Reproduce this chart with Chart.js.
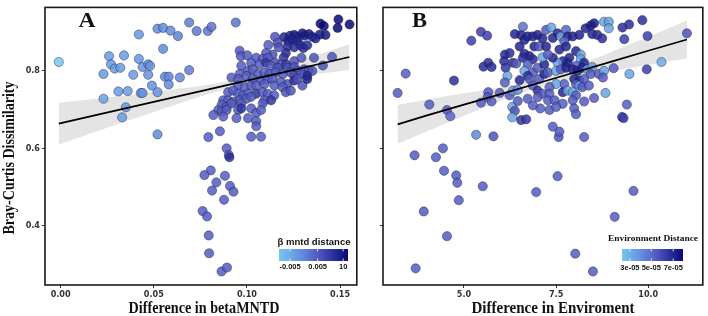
<!DOCTYPE html>
<html><head><meta charset="utf-8">
<script src="https://cdn.jsdelivr.net/npm/chart.js@4/dist/chart.umd.min.js"></script>
<style>
html,body{margin:0;padding:0;background:#fff;}
#wrap{position:relative;width:708px;height:316px;overflow:hidden;background:#fff;}
#cA{position:absolute;left:0;top:0;}
#cB{position:absolute;left:362px;top:0;}
</style></head><body>
<div id="wrap"><canvas id="cA" width="362" height="316"></canvas><canvas id="cB" width="346" height="316"></canvas></div>
<script>
// ---------------- DATA ----------------
// Panel A: Difference in betaMNTD vs Bray-Curtis dissimilarity, colour = beta mntd distance (0..1 shade)
const aX = [
 -0.001,0.023,0.026,0.027,0.029,0.032,0.034,0.023,0.031,0.036,
 0.039,0.035,0.033,0.042,0.042,0.044,0.043,0.044,0.047,0.047,
 0.048,0.049,0.052,0.052,0.052,0.055,0.055,0.056,0.058,0.058,
 0.059,0.063,0.064,0.069,0.069,0.073,0.079,0.081,0.094,
 0.1395,0.1413,0.1491,0.1487,0.1551,0.1151,0.1200,0.1232,0.1254,0.1271,
 0.1298,0.1310,0.1333,0.1351,0.1369,0.1392,0.1422,0.1222,0.1245,0.1271,
 0.1165,0.1115,0.1170,0.1218,0.1254,0.1289,0.1303,0.1324,0.1209,0.1197,
 0.1138,0.1103,0.0961,0.0967,0.1002,0.1050,0.1085,0.1112,0.1151,0.1183,
 0.1209,0.1254,0.1293,0.1360,0.1457,0.0970,0.1023,0.1068,0.1103,0.1130,
 0.1165,0.1218,0.1254,0.1271,0.1307,0.1333,0.1351,0.1408,0.0961,0.1006,
 0.1032,0.1059,0.1094,0.1121,0.1156,0.1192,0.1236,0.1254,0.1289,0.1324,
 0.0917,0.0953,0.0997,0.1032,0.1076,0.1112,0.1138,0.1183,0.1218,0.1254,
 0.1271,0.1298,0.1324,0.0953,0.0988,0.1023,0.1050,0.1094,0.1147,0.1192,
 0.0899,0.0926,0.0953,0.0979,0.1006,0.1050,0.1085,0.1112,0.1147,0.1209,
 0.1236,0.0873,0.0899,0.0926,0.0961,0.0997,0.1023,0.1094,0.1130,0.1085,
 0.0864,0.0891,0.0917,0.0970,0.0846,0.0864,0.0891,0.0953,0.0970,0.1023,
 0.1050,0.1076,0.0820,0.0873,0.0944,0.1006,0.1050,0.1050,0.0855,0.0793,
 0.1023,0.1076,
 0.0891,0.0903,0.0906,0.0806,0.0772,0.0882,0.0836,0.0909,0.0928,0.0813,
 0.0877,0.0762,0.0786,0.0795,0.0797,0.0864,0.0893
];
const aY = [
 0.823,0.792,0.838,0.817,0.806,0.808,0.840,0.728,0.747,0.748,
 0.790,0.706,0.680,0.894,0.831,0.810,0.743,0.743,0.817,0.790,
 0.813,0.762,0.745,0.636,0.909,0.911,0.857,0.785,0.785,0.765,
 0.904,0.890,0.783,0.925,0.802,0.903,0.903,0.914,0.925,
 0.922,0.916,0.933,0.911,0.920,0.888,0.887,0.891,0.893,0.888,
 0.897,0.891,0.895,0.888,0.884,0.894,0.893,0.877,0.880,0.876,
 0.872,0.867,0.861,0.863,0.861,0.866,0.859,0.866,0.846,0.834,
 0.842,0.846,0.852,0.838,0.840,0.834,0.831,0.834,0.821,0.817,
 0.817,0.825,0.834,0.834,0.836,0.813,0.821,0.817,0.821,0.813,
 0.808,0.808,0.810,0.800,0.804,0.802,0.800,0.814,0.792,0.800,
 0.804,0.792,0.796,0.792,0.796,0.792,0.796,0.787,0.792,0.787,
 0.783,0.779,0.787,0.779,0.775,0.779,0.779,0.771,0.766,0.775,
 0.779,0.762,0.779,0.762,0.758,0.762,0.762,0.766,0.762,0.758,
 0.745,0.749,0.741,0.737,0.741,0.741,0.745,0.741,0.737,0.745,
 0.749,0.724,0.724,0.720,0.724,0.728,0.733,0.724,0.724,0.716,
 0.712,0.707,0.716,0.716,0.699,0.695,0.699,0.699,0.703,0.703,
 0.691,0.699,0.686,0.682,0.678,0.678,0.670,0.657,0.644,0.629,
 0.630,0.630,
 0.600,0.583,0.577,0.543,0.531,0.529,0.512,0.503,0.488,0.491,
 0.467,0.438,0.424,0.375,0.329,0.282,0.292
];
const aShade = [
 0.00,0.25,0.25,0.25,0.25,0.25,0.25,0.22,0.25,0.25,
 0.25,0.28,0.25,0.28,0.28,0.28,0.28,0.30,0.30,0.30,
 0.30,0.30,0.30,0.33,0.33,0.33,0.33,0.33,0.35,0.33,
 0.35,0.38,0.35,0.40,0.40,0.42,0.42,0.45,0.45,
 1.00,1.00,1.00,1.00,1.00,0.60,0.85,0.85,0.90,0.85,
 0.90,0.90,0.90,0.85,0.85,0.90,0.90,0.85,0.85,0.85,
 0.60,0.55,0.60,0.80,0.80,0.80,0.80,0.80,0.80,0.75,
 0.60,0.55,0.55,0.55,0.55,0.55,0.55,0.55,0.60,0.60,
 0.75,0.60,0.60,0.60,0.60,0.55,0.55,0.55,0.75,0.55,
 0.60,0.60,0.60,0.60,0.60,0.60,0.60,0.60,0.55,0.55,
 0.55,0.55,0.55,0.55,0.55,0.55,0.60,0.60,0.60,0.80,
 0.55,0.55,0.55,0.55,0.55,0.55,0.55,0.55,0.60,0.80,
 0.60,0.60,0.85,0.55,0.55,0.55,0.55,0.55,0.55,0.55,
 0.55,0.55,0.55,0.55,0.55,0.75,0.55,0.55,0.55,0.60,
 0.60,0.55,0.55,0.55,0.55,0.55,0.55,0.55,0.75,0.55,
 0.55,0.55,0.55,0.55,0.55,0.55,0.55,0.55,0.75,0.55,
 0.55,0.55,0.55,0.55,0.55,0.55,0.55,0.55,0.55,0.55,
 0.55,0.55,
 0.55,0.55,0.80,0.55,0.55,0.55,0.55,0.55,0.55,0.55,
 0.55,0.55,0.55,0.55,0.55,0.55,0.55
];
// Panel A fitted line and confidence band
const aBandX  = [-0.001,0.02,0.04,0.06,0.08,0.10,0.12,0.14,0.155];
const aBandFit= [0.664,0.687,0.709,0.731,0.753,0.775,0.797,0.819,0.836];
const aBandLo = [0.610,0.645,0.678,0.710,0.741,0.766,0.781,0.793,0.802];
const aBandHi = [0.718,0.729,0.740,0.752,0.765,0.784,0.813,0.845,0.869];

// Panel B: Difference in Environment vs Bray-Curtis dissimilarity, colour = environment distance (0..1 shade)
const bX = [
 3.20,3.42,4.06,4.54,4.63,4.73,5.20,5.46,5.63,5.33,
 5.80,3.66,4.24,4.43,4.46,4.79,4.82,4.86,5.51,3.91,
 4.54,3.69,6.96,7.54,8.02,8.50,9.09,9.60,11.05,10.36,
 9.96,9.49,9.42,9.29,9.33,8.26,7.57,7.59,7.41,9.98,
 9.84,9.48,9.30,9.35,8.84,
 5.53,5.66,5.75,5.66,5.64,5.46,5.75,5.97,6.11,6.24,
 6.09,6.13,6.18,6.33,6.42,6.11,6.24,6.33,6.46,6.31,
 6.38,6.31,6.55,6.69,6.46,6.55,6.60,6.64,6.51,6.38,
 6.73,6.87,7.00,6.91,7.04,7.13,6.64,6.78,6.60,6.87,
 6.73,6.64,6.87,7.00,7.18,6.51,6.73,6.78,7.04,6.87,
 7.00,7.13,7.07,6.87,6.73,7.00,7.13,7.18,
 7.23,7.37,7.54,7.41,7.63,7.77,7.81,7.72,7.95,8.13,
 8.30,8.44,8.53,8.80,8.93,8.93,8.48,8.62,8.75,7.23,
 7.59,7.77,7.86,8.04,8.17,8.17,8.26,8.04,7.81,7.68,
 7.54,7.41,7.28,7.28,7.50,7.63,7.77,7.95,8.08,8.21,
 8.35,8.48,8.44,8.66,8.80,8.77,9.06,7.99,8.13,8.04,
 8.13,8.26,7.72,7.50,7.32,7.32,7.68,7.81,7.95,8.04,
 8.21,8.39,7.28,7.46,7.68,7.95,8.26,8.53,7.32,7.50,
 7.99,8.04
];
const bY = [
 0.743,0.793,0.713,0.699,0.683,0.775,0.878,0.901,0.891,0.635,
 0.631,0.582,0.577,0.600,0.542,0.530,0.511,0.466,0.502,0.437,
 0.373,0.290,0.487,0.528,0.328,0.282,0.423,0.490,0.897,0.823,
 0.804,0.792,0.713,0.681,0.678,0.629,0.629,0.643,0.656,0.890,
 0.931,0.920,0.912,0.882,0.743,
 0.811,0.821,0.810,0.745,0.732,0.718,0.721,0.743,0.842,0.846,
 0.825,0.808,0.787,0.821,0.819,0.770,0.737,0.749,0.751,0.707,
 0.697,0.680,0.673,0.675,0.722,0.893,0.914,0.880,0.863,0.895,
 0.889,0.889,0.893,0.863,0.863,0.884,0.844,0.838,0.834,0.830,
 0.817,0.800,0.796,0.808,0.817,0.776,0.787,0.779,0.779,0.762,
 0.749,0.741,0.703,0.711,0.728,0.732,0.835,0.792,
 0.906,0.912,0.897,0.885,0.889,0.906,0.889,0.876,0.889,0.893,
 0.910,0.917,0.923,0.927,0.927,0.910,0.895,0.893,0.884,0.863,
 0.855,0.863,0.834,0.851,0.842,0.830,0.821,0.813,0.821,0.825,
 0.821,0.834,0.842,0.796,0.800,0.804,0.808,0.804,0.800,0.808,
 0.804,0.810,0.792,0.792,0.800,0.783,0.807,0.779,0.775,0.766,
 0.762,0.779,0.766,0.766,0.758,0.741,0.745,0.749,0.745,0.737,
 0.758,0.762,0.724,0.724,0.715,0.724,0.721,0.730,0.699,0.707,
 0.703,0.688
];
const bShade = [
 0.55,0.55,0.55,0.55,0.50,0.80,0.70,0.70,0.70,0.35,
 0.60,0.55,0.55,0.55,0.55,0.55,0.55,0.55,0.55,0.55,
 0.55,0.55,0.55,0.55,0.55,0.55,0.55,0.55,0.60,0.15,
 0.70,0.20,0.55,0.70,0.70,0.55,0.60,0.55,0.55,0.70,
 0.80,0.80,0.80,0.70,0.20,
 0.80,0.80,0.80,0.55,0.55,0.55,0.55,0.55,0.80,0.80,
 0.80,0.75,0.20,0.80,0.55,0.55,0.55,0.25,0.30,0.20,
 0.60,0.20,0.75,0.75,0.55,0.85,0.45,0.85,0.85,0.85,
 0.85,0.85,0.85,0.85,0.55,0.85,0.85,0.85,0.80,0.80,
 0.55,0.20,0.55,0.55,0.85,0.85,0.80,0.55,0.55,0.55,
 0.80,0.55,0.55,0.55,0.55,0.55,0.20,0.85,
 0.55,0.20,0.85,0.85,0.20,0.50,0.85,0.50,0.85,0.85,
 0.85,0.90,0.90,0.20,0.20,0.20,0.85,0.80,0.80,0.85,
 0.85,0.85,0.85,0.85,0.20,0.20,0.85,0.55,0.85,0.85,
 0.20,0.85,0.55,0.55,0.20,0.55,0.85,0.85,0.85,0.85,
 0.20,0.25,0.55,0.55,0.20,0.55,0.55,0.85,0.85,0.55,
 0.20,0.55,0.55,0.20,0.55,0.55,0.85,0.20,0.20,0.55,
 0.55,0.55,0.55,0.55,0.55,0.55,0.55,0.55,0.55,0.55,
 0.55,0.55
];
const bBandX  = [3.20,4.0,5.0,6.0,7.0,8.0,9.0,10.0,11.05];
const bBandFit= [0.662,0.685,0.713,0.740,0.768,0.796,0.824,0.852,0.881];
const bBandLo = [0.612,0.644,0.684,0.722,0.757,0.781,0.799,0.816,0.832];
const bBandHi = [0.712,0.726,0.742,0.758,0.779,0.811,0.849,0.888,0.930];

// tick labels
const aXTicks = [0.00,0.05,0.10,0.15];
const bXTicks = [5.0,7.5,10.0];
const yTicks  = [0.4,0.6,0.8];
const aLegendLabels = ['-0.005','0.005','10'];
const bLegendLabels = ['3e-05','5e-05','7e-05'];

// ---------------- STYLE ----------------
const STOPS = [[0,[118,198,240]],[0.3,[100,146,224]],[0.55,[84,92,194]],[1,[8,8,120]]];
function mix(t){
  t=Math.max(0,Math.min(1,t));
  for(let i=1;i<STOPS.length;i++){
    if(t<=STOPS[i][0]){
      const [t0,c0]=STOPS[i-1],[t1,c1]=STOPS[i];
      const f=(t-t0)/(t1-t0);
      return c0.map((v,k)=>Math.round(v+(c1[k]-v)*f));
    }
  }
  return STOPS[STOPS.length-1][1];
}
function rgba(t,a){const c=mix(t);return `rgba(${c[0]},${c[1]},${c[2]},${a})`;}

const TICKFONT = {family:"'Liberation Sans Narrow','DejaVu Sans Condensed','Liberation Sans',sans-serif", size:9, weight:'bold'};

function condText(ctx,text,x,y,font,targetW,align,rot){
  ctx.save();
  ctx.font=font;
  const w=ctx.measureText(text).width;
  const sx=targetW? targetW/w : 1;
  ctx.translate(x,y);
  if(rot) ctx.rotate(rot);
  ctx.scale(sx,1);
  ctx.textAlign=align||'center';
  ctx.textBaseline='alphabetic';
  ctx.fillStyle='#111';
  ctx.fillText(text,0,0);
  ctx.restore();
}

function makeChart(canvas,cfg){
  const pts=cfg.x.map((v,i)=>({x:v,y:cfg.y[i]}));
  const cols=cfg.s.map(t=>rgba(t,0.85));
  const lo=cfg.bx.map((v,i)=>({x:v,y:cfg.blo[i]}));
  const hi=cfg.bx.map((v,i)=>({x:v,y:cfg.bhi[i]}));
  const fit=cfg.bx.map((v,i)=>({x:v,y:cfg.bfit[i]}));
  const deco={
    id:'deco',
    afterDatasetsDraw(chart){
      const {ctx,chartArea:a}=chart;
      ctx.save();
      ctx.strokeStyle='#1a1a1a';ctx.lineWidth=1.6;
      ctx.strokeRect(a.left,a.top,a.right-a.left,a.bottom-a.top);
      ctx.restore();
    },
    afterDraw(chart){
      const {ctx,chartArea:a}=chart;
      cfg.extra(ctx,a);
      // legend colour bar
      const L=cfg.legend;
      ctx.save();
      const g=ctx.createLinearGradient(L.x0,0,L.x1,0);
      for(let i=0;i<=20;i++){g.addColorStop(i/20,rgba(i/20,1));}
      ctx.fillStyle=g;
      ctx.fillRect(L.x0,L.y0,L.x1-L.x0,L.y1-L.y0);
      ctx.strokeStyle='#fff';ctx.lineWidth=0.8;
      L.pos.forEach(p=>{
        const xx=L.x0+(L.x1-L.x0)*p;
        ctx.beginPath();ctx.moveTo(xx,L.y0);ctx.lineTo(xx,L.y0+2.5);ctx.moveTo(xx,L.y1);ctx.lineTo(xx,L.y1-2.5);ctx.stroke();
      });
      ctx.restore();
      condText(ctx,L.title,L.tx,L.ty,L.tfont,L.tw,'center');
      L.labels.forEach((s,i)=>{
        condText(ctx,s,L.x0+(L.x1-L.x0)*L.pos[i],L.ly,L.lfont,null,'center');
      });
    }
  };
  return new Chart(canvas,{
    type:'scatter',
    data:{datasets:[
      {type:'line',data:lo,borderWidth:0,borderColor:'rgba(0,0,0,0)',pointRadius:0,fill:false,cubicInterpolationMode:'monotone',order:6},
      {type:'line',data:hi,borderWidth:0,borderColor:'rgba(0,0,0,0)',pointRadius:0,fill:'-1',backgroundColor:'rgba(185,185,185,0.38)',cubicInterpolationMode:'monotone',order:5},
      {data:pts,pointRadius:4.6,pointBackgroundColor:cols,pointBorderColor:'rgba(25,25,45,0.7)',pointBorderWidth:0.6,order:2},
      {type:'line',data:fit,borderColor:'#000',borderWidth:1.7,pointRadius:0,fill:false,tension:0,order:1}
    ]},
    options:{
      responsive:false,animation:false,devicePixelRatio:1,events:[],
      layout:{padding:cfg.pad},
      plugins:{legend:{display:false},tooltip:{enabled:false}},
      scales:{
        x:{type:'linear',min:cfg.xmin,max:cfg.xmax,
          afterBuildTicks:s=>{s.ticks=cfg.xt.map(v=>({value:v}));},
          afterFit:s=>{s.height=31;},
          grid:{drawOnChartArea:false,drawTicks:true,tickLength:3,color:'#333',lineWidth:1},
          border:{display:false},
          ticks:{font:TICKFONT,color:'#333',padding:1,maxRotation:0,autoSkip:false,callback:v=>v.toFixed(cfg.xdec)}},
        y:{type:'linear',min:0.247,max:0.964,
          afterBuildTicks:s=>{s.ticks=yTicks.map(v=>({value:v}));},
          afterFit:s=>{s.width=cfg.yw;},
          grid:{drawOnChartArea:false,drawTicks:true,tickLength:3,color:'#333',lineWidth:1},
          border:{display:false},
          ticks:{font:TICKFONT,color:'#333',padding:2,autoSkip:false,callback:v=>cfg.ylabels?v.toFixed(1):''}}
      }
    },
    plugins:[deco]
  });
}

const SERIF="'Liberation Serif','Times New Roman',serif";
makeChart(document.getElementById('cA'),{
  x:aX,y:aY,s:aShade,bx:aBandX,bfit:aBandFit,blo:aBandLo,bhi:aBandHi,
  xmin:-0.0084,xmax:0.159,xt:aXTicks,xdec:2,yw:45,ylabels:true,
  pad:{left:0,top:2,right:2,bottom:0},
  legend:{x0:279,x1:348,y0:249,y1:261,pos:[0.16,0.56,0.93],labels:aLegendLabels,
    title:'β mntd distance',tx:314,ty:245,tfont:"bold 9px 'Liberation Sans',sans-serif",tw:73,
    ly:269,lfont:"bold 7.5px 'Liberation Sans Narrow','Liberation Sans',sans-serif"},
  extra:(ctx,a)=>{
    condText(ctx,'A',87,27,"bold 20px "+SERIF,17,'center');
    condText(ctx,'Difference in betaMNTD',204,313,"bold 17px "+SERIF,151,'center');
    condText(ctx,'Bray-Curtis Dissimilarity',14,158,"bold 16px "+SERIF,153,'center',-Math.PI/2);
  }
});
makeChart(document.getElementById('cB'),{
  x:bX,y:bY,s:bShade,bx:bBandX,bfit:bBandFit,blo:bBandLo,bhi:bBandHi,
  xmin:2.804,xmax:11.48,xt:bXTicks,xdec:1,yw:21,ylabels:false,
  pad:{left:0,top:2,right:1,bottom:0},
  legend:{x0:260,x1:321,y0:249,y1:261,pos:[0.13,0.48,0.84],labels:bLegendLabels,
    title:'Environment Distance',tx:291,ty:241,tfont:"bold 9px "+SERIF,tw:90,
    ly:270,lfont:"bold 7.5px 'Liberation Sans Narrow','Liberation Sans',sans-serif"},
  extra:(ctx,a)=>{
    condText(ctx,'B',57.5,27,"bold 20px "+SERIF,15,'center');
    condText(ctx,'Difference in Enviroment',191,313,"bold 17px "+SERIF,163,'center');
  }
});
</script>
</body></html>
